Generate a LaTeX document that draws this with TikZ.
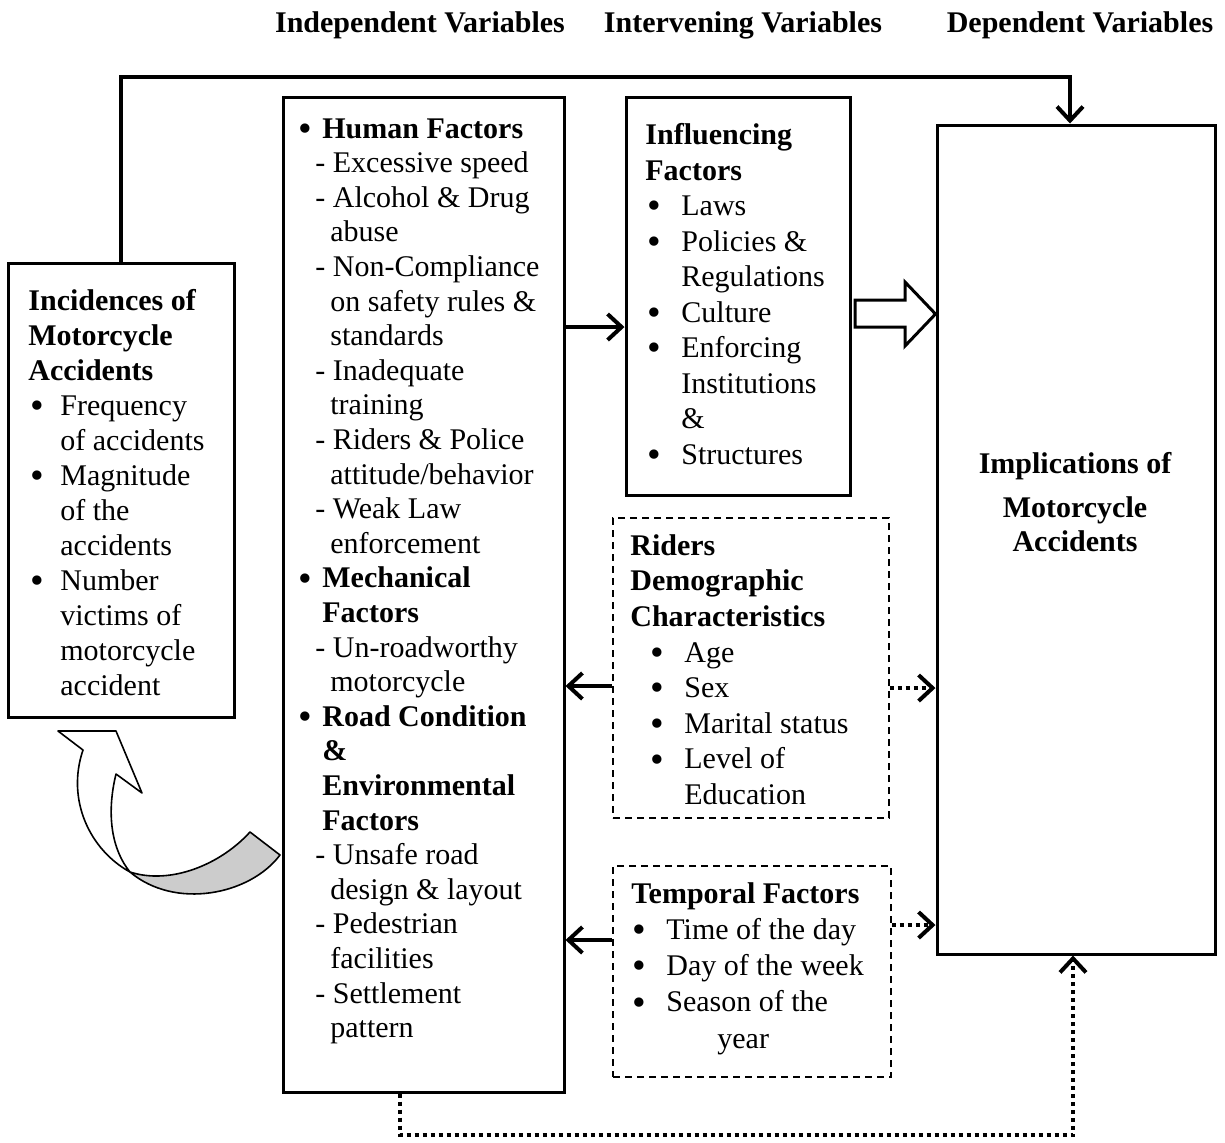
\documentclass[tikz,border=0pt]{standalone}
\usepackage{fontspec}
\setmainfont{Liberation Serif}
\usetikzlibrary{arrows.meta,fit}

\begin{document}
\begin{tikzpicture}[x=0.5pt, y=-0.5pt,
  txt/.style={anchor=north west, inner sep=0pt, align=left, font=\fontsize{15}{#1}\selectfont},
  txt/.default=17.5,
  solidbox/.style={draw, line width=1.5pt, inner sep=0pt},
  dashbox/.style={draw, line width=0.7pt, dash pattern=on 3.5pt off 2.5pt, inner sep=0pt},
  link/.style={line width=2pt, -{Straight Barb[length=7pt, width=13pt, line width=2pt]}},
  dotlink/.style={link, dash pattern=on 2pt off 2pt}]
% Framework diagram, coordinates in pixels
\providecommand{\fwBul}[2]{\hspace*{#1}\makebox[#2][l]{\smash{\raisebox{-1.6pt}{\scalebox{1.3}{\textbullet}}}}}
\providecommand{\fwDash}{\hspace*{8.5pt}- }
\providecommand{\fwCont}{\hspace*{16pt}}
\useasboundingbox (0,0) rectangle (1225,1142);
% Column headings
\begin{scope}[font=\fontsize{15}{17.5}\selectfont\bfseries]
  \node (indep) at (420,25) {Independent Variables};
  \node (interv) at (743,25) {Intervening Variables};
  \node (dep) at (1080,25) {Dependent Variables};
\end{scope}
% Curved feedback arrow (drawn first, boxes overlay it)
\begin{scope}[line width=0.8pt, line join=round]
  \filldraw[fill=black!20] (130,872) .. controls (170,885) and (220,865) .. (250,832)
    -- (280,855) .. controls (250,895) and (175,910) .. (130,872) -- cycle;
  \filldraw[fill=white] (58,731) -- (116,731) -- (142,793) -- (116,774)
    .. controls (106,815) and (112,850) .. (130,872)
    .. controls (90,850) and (66,800) .. (83,750) -- cycle;
\end{scope}
% Boxes
\node[solidbox, fit={(8,263) (234,717)}] (inc) {};
\node[solidbox, fit={(283,97) (564,1092)}] (main) {};
\node[solidbox, fit={(626,97) (850,495)}] (infl) {};
\node[dashbox, fit={(613,518) (889,818)}] (riders) {};
\node[dashbox, fit={(613,866) (891,1077)}] (temp) {};
\node[solidbox, fit={(937,125) (1215,954)}] (impl) {};
% Box texts
\node[txt] (inctxt) at (28,289) {\textbf{Incidences of}\\\textbf{Motorcycle}\\\textbf{Accidents}\\
  \fwBul{1pt}{15pt}Frequency\\\hspace*{16pt}of accidents\\
  \fwBul{1pt}{15pt}Magnitude\\\hspace*{16pt}of the\\\hspace*{16pt}accidents\\
  \fwBul{1pt}{15pt}Number\\\hspace*{16pt}victims of\\\hspace*{16pt}motorcycle\\\hspace*{16pt}accident};
\node[txt=17.3] (maintxt) at (298,118) {\fwBul{0pt}{12pt}\textbf{Human Factors}\\
  \fwDash Excessive speed\\
  \fwDash Alcohol \& Drug\\\fwCont abuse\\
  \fwDash Non-Compliance\\\fwCont on safety rules \&\\\fwCont standards\\
  \fwDash Inadequate\\\fwCont training\\
  \fwDash Riders \& Police\\\fwCont attitude/behavior\\
  \fwDash Weak Law\\\fwCont enforcement\\
  \fwBul{0pt}{12pt}\textbf{Mechanical}\\\hspace*{12pt}\textbf{Factors}\\
  \fwDash Un-roadworthy\\\fwCont motorcycle\\
  \fwBul{0pt}{12pt}\textbf{Road Condition}\\\hspace*{12pt}\textbf{\&}\\
  \hspace*{12pt}\textbf{Environmental}\\\hspace*{12pt}\textbf{Factors}\\
  \fwDash Unsafe road\\\fwCont design \& layout\\
  \fwDash Pedestrian\\\fwCont facilities\\
  \fwDash Settlement\\\fwCont pattern};
\node[txt=17.75] (infltxt) at (645,123) {\textbf{Influencing}\\\textbf{Factors}\\
  \fwBul{1pt}{17pt}Laws\\\fwBul{1pt}{17pt}Policies \&\\\hspace*{18pt}Regulations\\
  \fwBul{1pt}{17pt}Culture\\\fwBul{1pt}{17pt}Enforcing\\\hspace*{18pt}Institutions\\
  \hspace*{18pt}\&\\\fwBul{1pt}{17pt}Structures};
\node[txt=17.8] (riderstxt) at (630,534) {\textbf{Riders}\\\textbf{Demographic}\\\textbf{Characteristics}\\
  \fwBul{10pt}{17pt}Age\\\fwBul{10pt}{17pt}Sex\\\fwBul{10pt}{17pt}Marital status\\
  \fwBul{10pt}{17pt}Level of\\\hspace*{27pt}Education};
\node[txt=18.1] (temptxt) at (631,882) {\textbf{Temporal Factors}\\
  \fwBul{0.5pt}{17pt}Time of the day\\\fwBul{0.5pt}{17pt}Day of the week\\
  \fwBul{0.5pt}{17pt}Season of the\\\hspace*{43pt}year};
\node[anchor=north, inner sep=0pt, align=center, font=\fontsize{15}{17.3}\selectfont\bfseries]
  (impltxt) at (1075,452) {Implications of\\[4.5pt]Motorcycle\\Accidents};
% Connectors
\coordinate (topbend) at (1070,77);
\coordinate (botbend) at (400,1135);
\draw[link] (inc.north) |- (topbend) -- (impl.north -| topbend);
\draw[link] (main.east |- 0,327) -- (infl.west |- 0,327);
\draw[link] (riders.west |- 0,686) -- (main.east |- 0,686);
\draw[link] (temp.west |- 0,940) -- (main.east |- 0,940);
\draw[dotlink] (riders.east |- 0,688) -- (impl.west |- 0,688);
\draw[dotlink] (temp.east |- 0,925) -- (impl.west |- 0,925);
\draw[dotlink] (main.south -| botbend) -- (botbend) -| (impl.south -| 1073,0);
% Hollow block arrow
\coordinate (tip) at (impl.west |- 0,314);
\filldraw[fill=white, line width=1.5pt, line join=miter] (855,300) -- (905,300) -- (905,282)
  -- (tip) -- (905,346) -- (905,327) -- (855,327) -- cycle;
\end{tikzpicture}
\end{document}
